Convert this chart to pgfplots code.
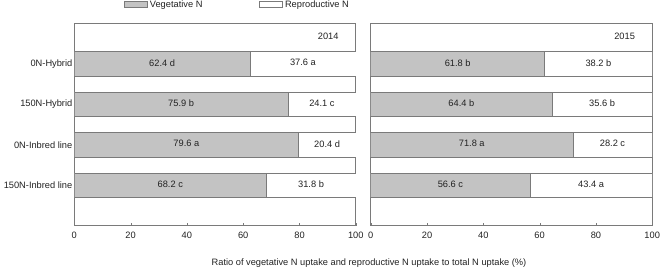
\documentclass[border=0pt]{standalone}
\usepackage{fontspec}
\setmainfont{Liberation Sans}
\usepackage{pgfplots}
\usepackage{pgfplotstable}
\pgfplotsset{compat=1.18}
\definecolor{vegfill}{HTML}{C3C3C3}
\definecolor{edgegray}{HTML}{7A7A7A}
\definecolor{txt}{HTML}{222222}

\pgfplotstableread[col sep=comma]{
y,veg,vlab,rep,rlab
1,62.4,62.4 d,37.6,37.6 a
2,75.9,75.9 b,24.1,24.1 c
3,79.6,79.6 a,20.4,20.4 d
4,68.2,68.2 c,31.8,31.8 b
}\dataA
\pgfplotstableread[col sep=comma]{
y,veg,vlab,rep,rlab
1,61.8,61.8 b,38.2,38.2 b
2,64.4,64.4 b,35.6,35.6 b
3,71.8,71.8 a,28.2,28.2 c
4,56.6,56.6 c,43.4,43.4 a
}\dataB

\pgfplotsset{
  panel/.style={
    scale only axis,
    width=281.5bp, height=202.4bp,
    anchor=south west,
    xbar stacked,
    bar width=0.6,
    xmin=0, xmax=100, ymin=0, ymax=5,
    y dir=reverse,
    xtick={0,20,...,100},
    ytick={1,2,3,4},
    tick align=inside,
    xtick pos=bottom,
    major tick length=2.5bp,
    ytick style={draw=none},
    xtick style={edgegray},
    axis line style={edgegray, line width=0.8bp},
    /pgf/number format/assume math mode=true,
    tick label style={font=\fontsize{9.3}{11}\selectfont, text=txt},
    xticklabel style={yshift=-2.5bp},
    yticklabel style={xshift=1.5bp},
    every axis plot/.append style={draw=edgegray, line width=0.6bp},
    point meta=explicit symbolic,
    nodes near coords,
    every node near coord/.append style={anchor=center, font=\fontsize{9.3}{11}\selectfont, text=txt, yshift=1bp},
  },
}

\begin{document}
\begin{tikzpicture}
\begin{axis}[panel, at={(74.3bp,44.3bp)},
  yticklabels={0N-Hybrid,150N-Hybrid,0N-Inbred line,150N-Inbred line},
  legend style={draw=none, fill=none, at={(axis description cs:0.177,1.093)}, anchor=west, inner sep=0pt,
    font=\fontsize{9.3}{11}\selectfont, text=txt,
    /tikz/every even column/.append style={column sep=55bp}},
  legend columns=2,
  legend image code/.code={\draw[#1, draw=edgegray, line width=0.6bp] (-3bp,-3bp) rectangle (20bp,3bp);},
]
\addplot[fill=vegfill] table[x=veg, y=y, meta=vlab] {\dataA};
\addlegendentry{Vegetative N}
\addplot[fill=white] table[x=rep, y=y, meta=rlab] {\dataA};
\addlegendentry{Reproductive N}
\node[font=\fontsize{9.3}{11}\selectfont, text=txt] at (axis cs:90.2,0.31) {2014};
\end{axis}
\begin{axis}[panel, at={(370.7bp,44.3bp)}, yticklabels={}]
\addplot[fill=vegfill] table[x=veg, y=y, meta=vlab] {\dataB};
\addplot[fill=white] table[x=rep, y=y, meta=rlab] {\dataB};
\node[font=\fontsize{9.3}{11}\selectfont, text=txt] at (axis cs:90.2,0.31) {2015};
\end{axis}
\node[font=\fontsize{9.3}{11}\selectfont, text=txt] at (369bp,6.7bp) {Ratio of vegetative N uptake and reproductive N uptake to total N uptake (\%)};
\pgfresetboundingbox
\path[use as bounding box] (0bp,0bp) rectangle (660bp,270bp);
\end{tikzpicture}
\end{document}
